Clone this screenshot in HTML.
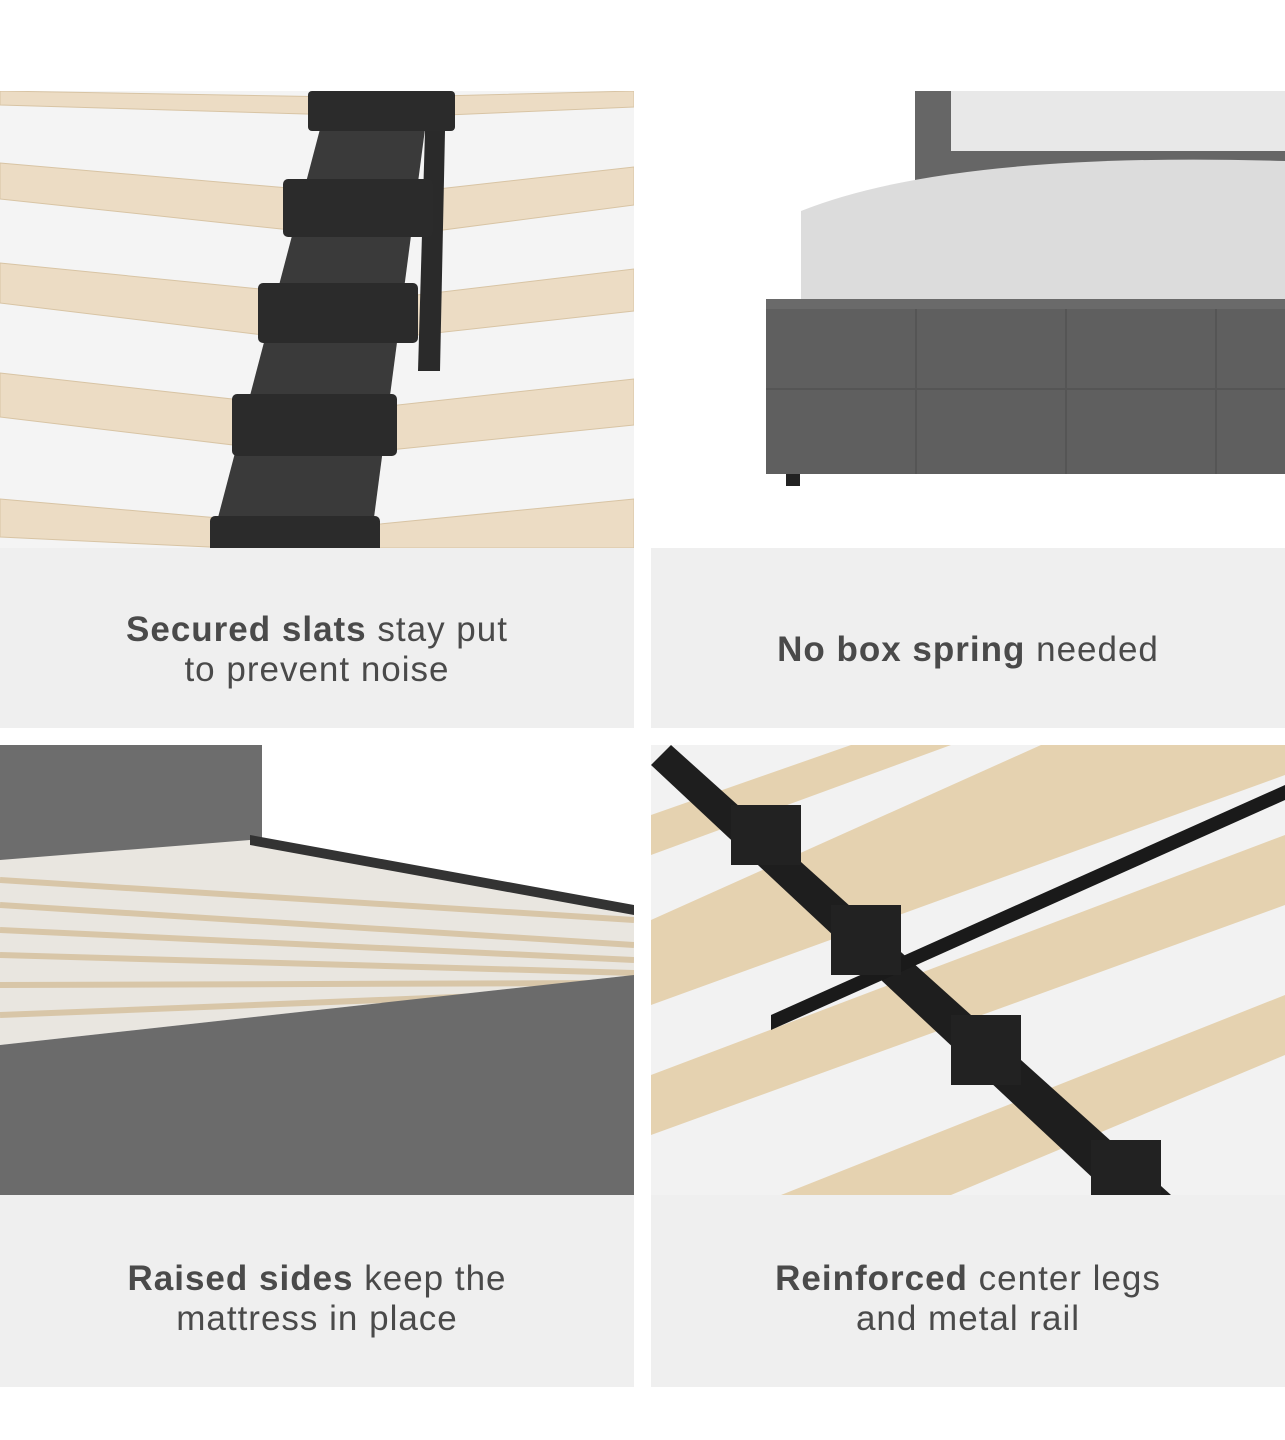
<!DOCTYPE html>
<html><head><meta charset="utf-8"><style>
html,body{margin:0;padding:0;background:#fff;}
body{width:1285px;height:1440px;position:relative;overflow:hidden;font-family:"Liberation Sans",sans-serif;}
.p{position:absolute;overflow:hidden;}
.cap{position:absolute;background:#efefef;display:flex;align-items:center;justify-content:center;text-align:center;color:#4a4a4a;font-size:35px;line-height:40px;letter-spacing:1px;}
.cap b{font-weight:bold;}
</style></head><body>

<div class="p" style="left:0;top:91px;width:634px;height:457px;background:#f4f4f4;">
<svg width="634" height="457">
<g fill="#ecdcc4" stroke="#d8c4a4" stroke-width="1">
<path d="M0,0 L340,6 L340,24 L0,14Z"/><path d="M400,6 L634,0 L634,16 L400,26Z"/>
<path d="M0,72 L300,98 L300,140 L0,108Z"/><path d="M420,100 L634,76 L634,114 L420,142Z"/>
<path d="M0,172 L280,200 L280,246 L0,212Z"/><path d="M400,206 L634,178 L634,220 L400,246Z"/>
<path d="M0,282 L250,310 L250,356 L0,326Z"/><path d="M380,316 L634,288 L634,334 L380,360Z"/>
<path d="M0,408 L230,428 L230,457 L0,446Z"/><path d="M370,434 L634,408 L634,457 L370,457Z"/>
</g>
<path d="M330,0 L430,0 L370,457 L210,457Z" fill="#3a3a3a"/>
<path d="M425,40 L445,40 L440,280 L418,280Z" fill="#2a2a2a"/>
<g fill="#2b2b2b">
<rect x="308" y="0" width="147" height="40" rx="4"/>
<rect x="283" y="88" width="150" height="58" rx="5"/>
<rect x="258" y="192" width="160" height="60" rx="5"/>
<rect x="232" y="303" width="165" height="62" rx="5"/>
<rect x="210" y="425" width="170" height="40" rx="5"/>
</g>
</svg></div>

<div class="p" style="left:651px;top:91px;width:634px;height:457px;background:#fff;">
<svg width="634" height="457">
<rect x="264" y="0" width="370" height="90" fill="#666"/>
<path d="M300,0 L634,0 L634,60 L300,60Z" fill="#e8e8e8"/>
<path d="M150,120 Q300,60 634,70 L634,215 L150,215Z" fill="#dcdcdc"/>
<rect x="115" y="208" width="519" height="175" fill="#5f5f5f"/>
<rect x="115" y="208" width="519" height="10" fill="#6a6a6a"/>
<line x1="265" y1="218" x2="265" y2="383" stroke="#555" stroke-width="2"/>
<line x1="415" y1="218" x2="415" y2="383" stroke="#555" stroke-width="2"/>
<line x1="565" y1="218" x2="565" y2="383" stroke="#555" stroke-width="2"/>
<line x1="115" y1="298" x2="634" y2="298" stroke="#555" stroke-width="2"/>
<rect x="135" y="383" width="14" height="12" fill="#222"/>
</svg></div>
<div class="cap" style="left:0;top:548px;width:634px;height:180px;"><div style="margin-top:24px"><b>Secured slats</b> stay put<br>to prevent noise</div></div>
<div class="cap" style="left:651px;top:548px;width:634px;height:180px;"><div style="margin-top:24px"><b>No box spring</b> needed</div></div>

<div class="p" style="left:0;top:745px;width:634px;height:450px;background:#fff;">
<svg width="634" height="450">
<rect x="0" y="0" width="262" height="130" fill="#6d6d6d"/>
<path d="M250,95 L634,165 L634,230 L0,300 L0,115Z" fill="#e9e6e0"/>
<g stroke="#d8c6a8" stroke-width="6">
<line x1="0" y1="135" x2="634" y2="175"/><line x1="0" y1="160" x2="634" y2="200"/>
<line x1="0" y1="185" x2="634" y2="215"/><line x1="0" y1="210" x2="634" y2="228"/>
<line x1="0" y1="240" x2="634" y2="238"/><line x1="0" y1="270" x2="634" y2="245"/>
</g>
<path d="M0,300 L634,230 L634,450 L0,450Z" fill="#6b6b6b"/>
<path d="M250,90 L634,160 L634,170 L250,100Z" fill="#333"/>
</svg></div>

<div class="p" style="left:651px;top:745px;width:634px;height:450px;background:#f2f2f2;">
<svg width="634" height="450">
<g fill="#e5d2b0">
<path d="M0,70 L200,0 L300,0 L0,110Z"/>
<path d="M0,175 L390,0 L634,0 L634,30 L0,260Z"/>
<path d="M0,330 L634,90 L634,160 L0,390Z"/>
<path d="M130,450 L634,250 L634,310 L300,450Z"/>
</g>
<path d="M0,20 L20,0 L520,450 L460,450Z" fill="#1e1e1e"/>
<path d="M120,270 L634,40 L634,55 L120,285Z" fill="#1a1a1a"/>
<g fill="#222"><rect x="80" y="60" width="70" height="60"/><rect x="180" y="160" width="70" height="70"/><rect x="300" y="270" width="70" height="70"/><rect x="440" y="395" width="70" height="55"/></g>
</svg></div>
<div class="cap" style="left:0;top:1195px;width:634px;height:192px;"><div style="margin-top:16px"><b>Raised sides</b> keep the<br>mattress in place</div></div>
<div class="cap" style="left:651px;top:1195px;width:634px;height:192px;"><div style="margin-top:16px"><b>Reinforced</b> center legs<br>and metal rail</div></div>
</body></html>
